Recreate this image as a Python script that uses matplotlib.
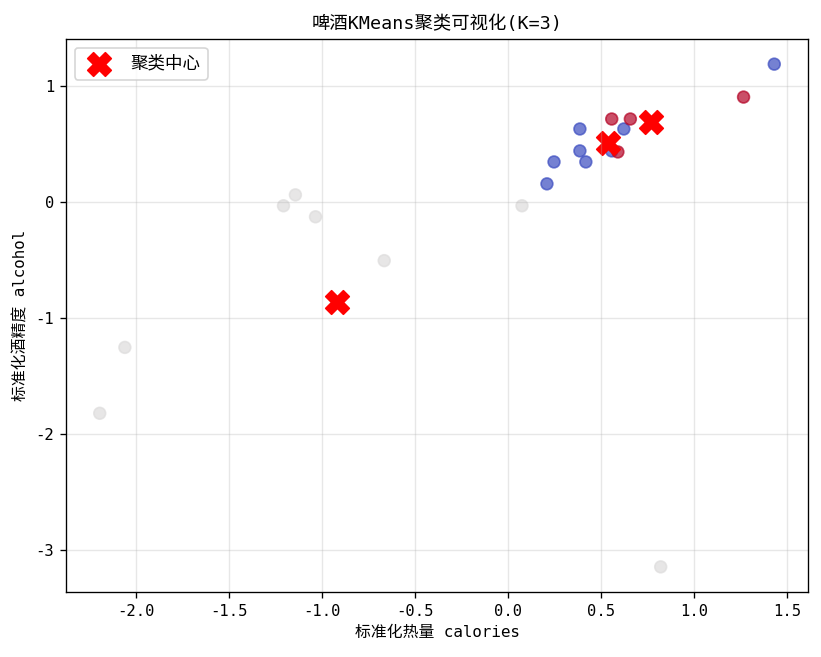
import matplotlib
matplotlib.use("Agg")
import matplotlib.pyplot as plt
import numpy as np

plt.rcParams['font.family'] = ['DejaVu Sans Mono', 'Noto Sans CJK SC', 'DejaVu Sans']
plt.rcParams['axes.unicode_minus'] = False

# standardized calories / alcohol per beer, and cluster label
calories = [-2.193, -2.058, -1.206, -1.142, -1.034, -0.665, 0.075, 0.820,
            0.209, 0.247, 0.386, 0.386, 0.418, 0.557, 0.622, 1.430,
            0.557, 0.657, 0.590, 1.265]
alcohol = [-1.823, -1.255, -0.034, 0.060, -0.129, -0.507, -0.034, -3.147,
           0.155, 0.344, 0.439, 0.628, 0.344, 0.439, 0.628, 1.187,
           0.714, 0.714, 0.430, 0.903]
labels = [1, 1, 1, 1, 1, 1, 1, 1,
          0, 0, 0, 0, 0, 0, 0, 0,
          2, 2, 2, 2]

center_x = [-0.917, 0.536, 0.766]
center_y = [-0.860, 0.507, 0.688]

DPI = 120
fig = plt.figure(figsize=(821/DPI, 657/DPI), dpi=DPI)
ax = fig.add_axes([66/821, 1-592/657, (808-66)/821, (592-39)/657])
ax.scatter(calories, alcohol, c=labels, cmap='coolwarm', s=50, alpha=0.7)
ax.scatter(center_x, center_y, c='red', marker='X', s=200, label='聚类中心')
ax.set_title('啤酒KMeans聚类可视化(K=3)', fontsize=11)
ax.set_xlabel('标准化热量 calories', fontsize=9.5)
ax.set_ylabel('标准化酒精度 alcohol', fontsize=9.5)
ax.tick_params(labelsize=9.3)
ax.legend(loc='upper left', fontsize=10.5)
ax.grid(True, alpha=0.3)
fig.savefig('out.png', dpi=DPI)
